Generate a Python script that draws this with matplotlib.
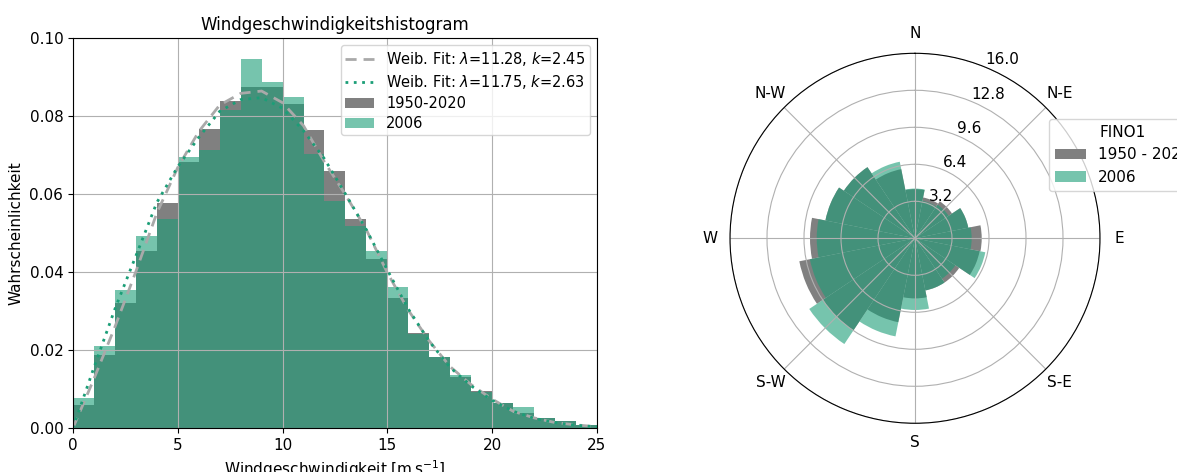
import numpy as np
import matplotlib
matplotlib.use('Agg')
import matplotlib.pyplot as plt

# histogram of wind speed, bins of 1 m/s from 0 to 25
bin_left = np.arange(0, 25)
hist_all = [0.0060, 0.0188, 0.0321, 0.0453, 0.0577, 0.0682, 0.0767, 0.0838,
            0.0874, 0.0874, 0.0830, 0.0765, 0.0659, 0.0536, 0.0434, 0.0334,
            0.0243, 0.0181, 0.0132, 0.0094, 0.0063, 0.0039, 0.0026, 0.0019,
            0.0008]
hist_2006 = [0.0076, 0.0209, 0.0353, 0.0493, 0.0536, 0.0694, 0.0714, 0.0816,
             0.0945, 0.0888, 0.0848, 0.0703, 0.0581, 0.0518, 0.0453, 0.0362,
             0.0241, 0.0181, 0.0137, 0.0092, 0.0063, 0.0053, 0.0026, 0.0019,
             0.0008]

# fitted curves at every m/s
v_fit = np.arange(0, 26)
fit_all = [0.0000, 0.0126, 0.0259, 0.0401, 0.0551, 0.0668, 0.0760, 0.0828,
           0.0858, 0.0864, 0.0834, 0.0775, 0.0682, 0.0598, 0.0508, 0.0398,
           0.0302, 0.0223, 0.0157, 0.0111, 0.0074, 0.0043, 0.0026, 0.0014,
           0.0008, 0.0003]
fit_2006 = [0.0000, 0.0155, 0.0305, 0.0441, 0.0578, 0.0670, 0.0745, 0.0812,
            0.0842, 0.0847, 0.0820, 0.0762, 0.0690, 0.0600, 0.0508, 0.0405,
            0.0305, 0.0222, 0.0155, 0.0108, 0.0071, 0.0043, 0.0025, 0.0014,
            0.0007, 0.0003]
lab_all = r'Weib. Fit: $\lambda$=11.28, $k$=2.45'
lab_2006 = r'Weib. Fit: $\lambda$=11.75, $k$=2.63'

# wind rose, 16 sectors (degrees from north, clockwise)
sector_deg = np.arange(16) * 22.5
rose_all = [4.25, 3.6, 3.85, 4.7, 5.77, 5.7, 4.6, 4.6,
            5.2, 7.4, 9.56, 10.2, 9.08, 7.9, 7.4, 6.1]
rose_2006 = [4.3, 3.3, 3.5, 4.7, 4.9, 6.2, 4.2, 4.6,
             6.2, 8.65, 11.0, 9.27, 8.5, 7.9, 7.4, 6.75]
compass = ['N', 'N-E', 'E', 'S-E', 'S', 'S-W', 'W', 'N-W']
r_ticks = [3.2, 6.4, 9.6, 12.8, 16.0]

teal = '#1b9e77'

fig = plt.figure(figsize=(11.77, 4.72), dpi=100)

# left: histogram
ax = fig.add_axes([0.0620, 0.0932, 0.4452, 0.8263])
ax.bar(bin_left, hist_all, width=1, align='edge', color='grey', label='1950-2020')
ax.bar(bin_left, hist_2006, width=1, align='edge', color=teal, alpha=0.6, label='2006')
ax.plot(v_fit, fit_all, linestyle=(0, (4, 2.5)), color='darkgrey', lw=2, label=lab_all)
ax.plot(v_fit, fit_2006, linestyle=(0, (1, 2)), color=teal, lw=2, label=lab_2006)
ax.grid(True)
ax.set_xlim([0, 25])
ax.set_ylim([0, 0.10])
ax.set_xticks(range(0, 26, 5))
ax.set_yticks(np.linspace(0, 0.1, 6))
ax.yaxis.set_major_formatter(matplotlib.ticker.FormatStrFormatter('%.2f'))
ax.tick_params(labelsize=11)
ax.set_title('Windgeschwindigkeitshistogram', fontsize=12)
ax.set_xlabel(r'Windgeschwindigkeit [m$\,$s$^{-1}$]', fontsize=11)
ax.set_ylabel('Wahrscheinlichkeit', fontsize=11)
ax.legend(loc='upper right', fontsize=10.5, labelspacing=0.35, borderpad=0.3)

# right: wind rose
axp = fig.add_axes([0.6202, 0.1032, 0.3144, 0.7839], projection='polar')
axp.set_theta_zero_location('N')
axp.set_theta_direction(-1)
th = np.deg2rad(sector_deg)
w = 2 * np.pi / 16
axp.bar(th, rose_all, width=w, color='grey', label='1950 - 2020')
axp.bar(th, rose_2006, width=w, color=teal, alpha=0.6, label='2006')
axp.set_xticks(np.deg2rad(np.arange(0, 360, 45)))
axp.set_xticklabels(compass)
axp.set_ylim(0, 16)
axp.set_yticks(r_ticks)
axp.set_rlabel_position(22.5)
axp.tick_params(labelsize=11)
axp.legend(title='FINO1', loc='upper left', bbox_to_anchor=(0.8913, 0.7485),
           bbox_transform=fig.transFigure, borderaxespad=0,
           fontsize=11, title_fontsize=11)

plt.savefig('out.png', dpi=100)
plt.close()
